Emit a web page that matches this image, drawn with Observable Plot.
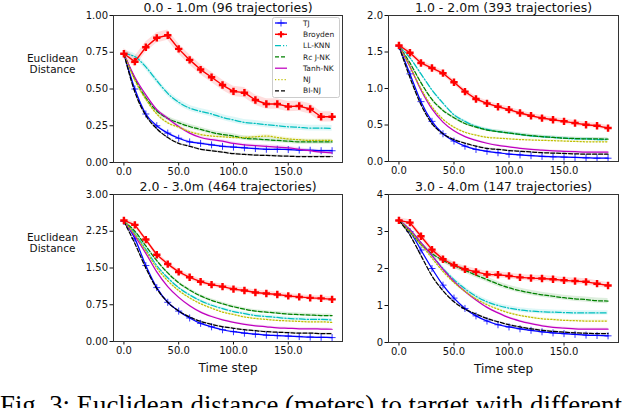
<!DOCTYPE html>
<html>
<head>
<meta charset="utf-8">
<script src="https://cdn.jsdelivr.net/npm/d3@7"></script>
<script src="https://cdn.jsdelivr.net/npm/@observablehq/plot@0.6"></script>
<style>
  body { margin: 0; background: #fff; }
  #fig { position: relative; width: 640px; height: 408px; overflow: hidden; font-family: "DejaVu Sans", sans-serif; }
  #fig > div, #fig > svg { position: absolute; }
  .caption { font-family: "Liberation Serif", "Times New Roman", serif; font-size: 26.8px; white-space: nowrap; line-height: 1; color: #000; }
</style>
</head>
<body>
<div id="fig"></div>
<script>
// time steps (markers every 10 steps)
const steps = [0,10,20,30,40,50,60,70,80,90,100,110,120,130,140,150,160,170,180,190];
const methods = ["TJ","Broyden","LL-KNN","Rc J-NK","Tanh-NK","NJ","BI-NJ"];
const colors = ["#0000ff","#ff0000","#00bfbf","#008000","#bf00bf","#bfbf00","#000000"];
const dashes = [null, null, "6,2,1.2,2", "4,2", null, "1.2,2", "4,2"];

// panel titles and y ticks
const titles = ["0.0 - 1.0m (96 trajectories)","1.0 - 2.0m (393 trajectories)","2.0 - 3.0m (464 trajectories)","3.0 - 4.0m (147 trajectories)"];
const yTicks1 = [0,0.25,0.5,0.75,1.0];
const yTicks2 = [0,0.5,1.0,1.5,2.0];
const yTicks3 = [0,0.75,1.5,2.25,3.0];
const yTicks4 = [0,1,2,3,4];
const xTicks = [0,50,100,150];

// panel 1: 0-1m
const p1TJ      = [0.74,0.50,0.33,0.25,0.20,0.165,0.14,0.13,0.12,0.11,0.105,0.10,0.095,0.09,0.09,0.088,0.085,0.083,0.08,0.08];
const p1Broyden = [0.74,0.686,0.784,0.848,0.866,0.773,0.698,0.632,0.580,0.527,0.484,0.475,0.425,0.398,0.398,0.380,0.384,0.364,0.311,0.311];
const p1LLKNN   = [0.74,0.72,0.65,0.557,0.47,0.41,0.37,0.348,0.33,0.307,0.289,0.273,0.266,0.257,0.25,0.243,0.239,0.234,0.234,0.232];
const p1RcJNK   = [0.74,0.57,0.44,0.35,0.30,0.27,0.245,0.225,0.205,0.19,0.18,0.165,0.16,0.155,0.15,0.145,0.14,0.14,0.14,0.14];
const p1TanhNK  = [0.74,0.58,0.46,0.36,0.30,0.245,0.20,0.17,0.155,0.145,0.13,0.12,0.115,0.11,0.105,0.10,0.09,0.08,0.07,0.065];
const p1NJ      = [0.74,0.56,0.43,0.33,0.27,0.24,0.21,0.19,0.18,0.175,0.17,0.17,0.175,0.18,0.17,0.16,0.155,0.15,0.15,0.15];
const p1BINJ    = [0.74,0.48,0.32,0.23,0.17,0.13,0.11,0.09,0.08,0.07,0.06,0.055,0.05,0.048,0.045,0.043,0.04,0.04,0.04,0.04];
const p1Band    = [0.008,0.035,0.02,0.015,0.01,0.01,0.006];

// panel 2: 1-2m
const p2TJ      = [1.58,1.20,0.82,0.55,0.38,0.28,0.21,0.165,0.14,0.12,0.10,0.09,0.08,0.07,0.065,0.06,0.055,0.05,0.045,0.045];
const p2Broyden = [1.59,1.49,1.35,1.28,1.21,1.085,0.957,0.856,0.796,0.75,0.71,0.664,0.627,0.595,0.572,0.55,0.526,0.503,0.49,0.458];
const p2LLKNN   = [1.58,1.42,1.20,0.98,0.80,0.64,0.55,0.48,0.44,0.41,0.39,0.37,0.35,0.34,0.33,0.32,0.31,0.31,0.30,0.30];
const p2RcJNK   = [1.58,1.35,1.08,0.85,0.70,0.60,0.52,0.47,0.43,0.41,0.39,0.37,0.355,0.34,0.33,0.32,0.315,0.31,0.31,0.305];
const p2TanhNK  = [1.58,1.30,0.98,0.72,0.54,0.42,0.34,0.29,0.25,0.22,0.20,0.18,0.165,0.155,0.145,0.14,0.135,0.13,0.13,0.13];
const p2NJ      = [1.58,1.30,1.00,0.75,0.58,0.47,0.40,0.36,0.33,0.32,0.31,0.30,0.295,0.29,0.285,0.28,0.275,0.27,0.27,0.27];
const p2BINJ    = [1.58,1.15,0.78,0.52,0.38,0.30,0.25,0.21,0.18,0.165,0.15,0.14,0.13,0.12,0.115,0.11,0.105,0.10,0.10,0.10];
const p2Band    = [0.01,0.035,0.02,0.02,0.012,0.012,0.01];

// panel 3: 2-3m
const p3TJ      = [2.45,2.10,1.55,1.10,0.80,0.62,0.48,0.37,0.30,0.24,0.20,0.17,0.15,0.13,0.12,0.11,0.10,0.09,0.085,0.08];
const p3Broyden = [2.47,2.38,2.08,1.77,1.58,1.42,1.31,1.22,1.16,1.12,1.07,1.04,1.00,0.98,0.96,0.93,0.91,0.89,0.88,0.86];
const p3LLKNN   = [2.45,2.20,1.88,1.55,1.30,1.10,0.95,0.83,0.74,0.67,0.61,0.57,0.53,0.51,0.49,0.47,0.46,0.45,0.45,0.44];
const p3RcJNK   = [2.45,2.25,1.95,1.65,1.40,1.20,1.05,0.93,0.84,0.77,0.71,0.66,0.62,0.60,0.58,0.56,0.55,0.54,0.53,0.53];
const p3TanhNK  = [2.45,2.15,1.80,1.42,1.12,0.90,0.73,0.60,0.51,0.44,0.39,0.35,0.32,0.30,0.28,0.27,0.26,0.26,0.255,0.25];
const p3NJ      = [2.45,2.18,1.85,1.50,1.24,1.04,0.89,0.77,0.68,0.60,0.55,0.50,0.47,0.45,0.43,0.42,0.41,0.40,0.40,0.39];
const p3BINJ    = [2.45,2.00,1.50,1.08,0.80,0.62,0.50,0.41,0.35,0.30,0.27,0.24,0.22,0.20,0.19,0.18,0.17,0.17,0.16,0.16];
const p3Band    = [0.015,0.05,0.03,0.03,0.02,0.02,0.015];

// panel 4: 3-4m
const p4TJ      = [3.30,3.00,2.50,2.00,1.55,1.20,0.92,0.72,0.58,0.48,0.42,0.37,0.33,0.29,0.26,0.24,0.22,0.20,0.19,0.18];
const p4Broyden = [3.30,3.24,2.87,2.51,2.25,2.09,1.98,1.91,1.84,1.83,1.80,1.76,1.74,1.73,1.71,1.68,1.66,1.64,1.59,1.54];
const p4LLKNN   = [3.30,3.05,2.70,2.35,2.00,1.70,1.45,1.25,1.10,1.00,0.93,0.88,0.85,0.83,0.82,0.81,0.80,0.80,0.80,0.80];
const p4RcJNK   = [3.30,3.00,2.65,2.40,2.22,2.08,1.95,1.82,1.70,1.58,1.48,1.40,1.34,1.29,1.25,1.21,1.18,1.16,1.13,1.12];
const p4TanhNK  = [3.30,3.05,2.70,2.35,1.98,1.65,1.38,1.15,0.95,0.80,0.67,0.58,0.51,0.45,0.41,0.39,0.37,0.36,0.36,0.36];
const p4NJ      = [3.30,3.00,2.65,2.28,1.92,1.62,1.38,1.18,1.02,0.90,0.80,0.73,0.68,0.64,0.62,0.60,0.59,0.58,0.58,0.58];
const p4BINJ    = [3.30,2.90,2.35,1.80,1.40,1.10,0.90,0.77,0.65,0.56,0.48,0.42,0.37,0.33,0.30,0.28,0.26,0.25,0.24,0.24];
const p4Band    = [0.03,0.08,0.06,0.07,0.03,0.03,0.02];

const panels = [
  {series:[p1TJ,p1Broyden,p1LLKNN,p1RcJNK,p1TanhNK,p1NJ,p1BINJ], band:p1Band, yTicks:yTicks1, fmt:".2f", ylab:true,
   left:0, top:0, width:345, height:182, ml:113, mr:3, mt:15, mb:20, xlab:false},
  {series:[p2TJ,p2Broyden,p2LLKNN,p2RcJNK,p2TanhNK,p2NJ,p2BINJ], band:p2Band, yTicks:yTicks2, fmt:".1f", ylab:false,
   left:345, top:0, width:295, height:182, ml:43, mr:22, mt:15, mb:21, xlab:false},
  {series:[p3TJ,p3Broyden,p3LLKNN,p3RcJNK,p3TanhNK,p3NJ,p3BINJ], band:p3Band, yTicks:yTicks3, fmt:".2f", ylab:true,
   left:0, top:182, width:345, height:196, ml:113, mr:3, mt:12, mb:37, xlab:true},
  {series:[p4TJ,p4Broyden,p4LLKNN,p4RcJNK,p4TanhNK,p4NJ,p4BINJ], band:p4Band, yTicks:yTicks4, fmt:"d", ylab:false,
   left:345, top:182, width:295, height:196, ml:43, mr:22, mt:12, mb:36, xlab:true}
];

const fig = document.querySelector("#fig");
const drawOrder = [0,2,3,4,5,6,1];

panels.forEach((p, i) => {
  const marks = [];
  drawOrder.forEach(k => {
    const rows = steps.map((s, j) => ({x: s, y: p.series[k][j]}));
    const curve = k === 1 ? "linear" : "monotone-x";
    marks.push(Plot.areaY(rows, {x: "x", y1: d => d.y - p.band[k], y2: d => d.y + p.band[k], fill: colors[k], fillOpacity: 0.13, curve}));
  });
  drawOrder.forEach(k => {
    const rows = steps.map((s, j) => ({x: s, y: p.series[k][j]}));
    const curve = k === 1 ? "linear" : "monotone-x";
    marks.push(Plot.line(rows, {x: "x", y: "y", stroke: colors[k], strokeWidth: k === 1 ? 1.4 : 1.25, strokeDasharray: dashes[k], curve}));
    if (k === 0) marks.push(Plot.dot(rows, {x: "x", y: "y", symbol: "plus", stroke: colors[k], r: 2.4, strokeWidth: 0.8}));
    if (k === 1) marks.push(Plot.dot(rows, {x: "x", y: "y", symbol: "cross", fill: colors[k], r: 3.1}));
  });
  marks.push(Plot.frame({stroke: "#333", strokeWidth: 1}));
  marks.push(Plot.text([titles[i]], {frameAnchor: "top", lineAnchor: "middle", dy: -8, fontSize: 12.5, fill: "#111"}));
  if (p.ylab) marks.push(Plot.text(["Euclidean\nDistance"], {frameAnchor: "left", lineAnchor: "middle", dx: -61, dy: -25, fontSize: 10.5, textAnchor: "middle", fill: "#111"}));
  if (p.xlab) marks.push(Plot.text(["Time step"], {frameAnchor: "bottom", lineAnchor: "middle", dy: 27, fontSize: 12, fill: "#111"}));

  const chart = Plot.plot({
    width: p.width, height: p.height,
    marginLeft: p.ml, marginRight: p.mr, marginTop: p.mt, marginBottom: p.mb,
    style: {fontFamily: "DejaVu Sans", fontSize: "10px", color: "#111", background: "transparent", overflow: "visible"},
    x: {domain: [-9.5, 199.5], ticks: xTicks, tickFormat: ".1f", tickSize: 3.5, tickPadding: 2, label: null},
    y: {domain: [p.yTicks[0], p.yTicks[p.yTicks.length - 1]], ticks: p.yTicks, tickFormat: p.fmt, tickSize: 3.5, tickPadding: 2, label: null},
    marks
  });
  chart.style.left = p.left + "px";
  chart.style.top = p.top + "px";
  chart.style.position = "absolute";
  fig.append(chart);
});

// legend inside panel 1
const leg = d3.select(fig).append("svg")
  .attr("width", 68).attr("height", 81)
  .style("left", "272px").style("top", "17px").style("position", "absolute");
leg.append("rect").attr("x", 0.5).attr("y", 0.5).attr("width", 67).attr("height", 80).attr("rx", 2)
  .attr("fill", "#fff").attr("fill-opacity", 0.85).attr("stroke", "#ccc");
methods.forEach((m, k) => {
  const y = 6 + k * 11.3;
  const g = leg.append("g");
  g.append("line").attr("x1", 3).attr("x2", 15).attr("y1", y).attr("y2", y)
    .attr("stroke", colors[k]).attr("stroke-width", k === 1 ? 1.4 : 1.25)
    .attr("stroke-dasharray", dashes[k]);
  if (k === 0) g.append("path").attr("d", d3.symbol(d3.symbolPlus, 18)()).attr("transform", `translate(9,${y})`).attr("stroke", colors[k]).attr("fill", "none").attr("stroke-width", 0.8);
  if (k === 1) g.append("path").attr("d", d3.symbol(d3.symbolCross, 22)()).attr("transform", `translate(9,${y})`).attr("fill", colors[k]);
  g.append("text").attr("x", 31).attr("y", y).attr("dy", "0.35em").attr("font-size", 7.5)
    .attr("font-family", "DejaVu Sans").attr("fill", "#222").text(m);
});

// caption (cut off at the bottom of the picture, as in the reference)
const cap = document.createElement("div");
cap.className = "caption";
cap.style.left = "0px";
cap.style.top = "392px";
cap.textContent = "Fig. 3: Euclidean distance (meters) to target with different";
fig.append(cap);
</script>
</body>
</html>
